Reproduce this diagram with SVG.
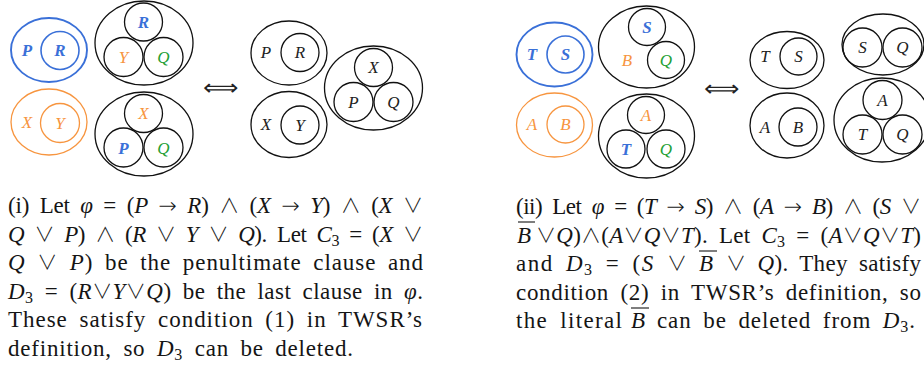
<svg xmlns="http://www.w3.org/2000/svg" width="924" height="369" viewBox="0 0 924 369">
<style>
.bg{fill:#ffffff}
.k{fill:none;stroke:#111;stroke-width:1.3}
.bl{fill:none;stroke:#3a70d8;stroke-width:1.9}
.bli{fill:none;stroke:#3a70d8;stroke-width:1.6}
.or{fill:none;stroke:#f7953f;stroke-width:1.3}
.lab{font-family:"Liberation Serif",serif;font-style:italic;font-size:17px;text-anchor:middle;fill:#222}
.lb{fill:#3a70d8;font-weight:bold}
.lo{fill:#f7953f}
.lg{fill:#24a034}
.t{font-family:"Liberation Serif",serif;font-size:23px;fill:#151515;word-spacing:5px}
.m{font-style:italic}
.s{font-family:"DejaVu Sans ExtraLight","DejaVu Sans",sans-serif;font-weight:200;font-size:22px}
.w{font-family:"Noto Sans CJK JP","DejaVu Sans",sans-serif;font-weight:300;font-size:20px}
.sub{font-size:16px}
.eq{font-family:"DejaVu Sans ExtraLight","DejaVu Sans",sans-serif;font-weight:200;font-size:22px;fill:#222}
.ov{stroke:#151515;stroke-width:1.1}
</style>
<rect class="bg" x="0" y="0" width="924" height="369"/>

<!-- (i) left side -->
<g id="i-blue">
  <ellipse class="bl" cx="49" cy="50" rx="38" ry="32"/>
  <circle class="bli" cx="60" cy="50.5" r="19"/>
  <text class="lab lb" x="27" y="56">P</text>
  <text class="lab lb" x="60" y="56">R</text>
</g>
<g id="i-orange">
  <ellipse class="or" cx="49" cy="122" rx="38" ry="33"/>
  <circle class="or" cx="60" cy="123" r="19.5"/>
  <text class="lab lo" x="27" y="128">X</text>
  <text class="lab lo" x="60" y="129">Y</text>
</g>
<g id="i-top3">
  <ellipse class="k" cx="144" cy="43" rx="49" ry="42"/>
  <circle class="k" cx="143.5" cy="22" r="19"/>
  <circle class="k" cx="123.5" cy="57" r="19.5"/>
  <circle class="k" cx="163.5" cy="57" r="19.5"/>
  <text class="lab lb" x="143.5" y="27.5">R</text>
  <text class="lab lo" x="123.5" y="63">Y</text>
  <text class="lab lg" x="163.5" y="63">Q</text>
</g>
<g id="i-bot3">
  <ellipse class="k" cx="144" cy="134" rx="49" ry="42"/>
  <circle class="k" cx="143.5" cy="113.5" r="19"/>
  <circle class="k" cx="123.5" cy="147.5" r="19.5"/>
  <circle class="k" cx="163.5" cy="147.5" r="19.5"/>
  <text class="lab lo" x="143.5" y="119">X</text>
  <text class="lab lb" x="123.5" y="153.5">P</text>
  <text class="lab lg" x="163.5" y="153.5">Q</text>
</g>

<!-- (i) right side -->
<g id="i-PR">
  <ellipse class="k" cx="289" cy="53" rx="38" ry="32"/>
  <circle class="k" cx="300" cy="52.5" r="19"/>
  <text class="lab" x="266" y="58">P</text>
  <text class="lab" x="300" y="58">R</text>
</g>
<g id="i-XY">
  <ellipse class="k" cx="289" cy="124.5" rx="38" ry="33"/>
  <circle class="k" cx="300" cy="125" r="19"/>
  <text class="lab" x="266" y="130">X</text>
  <text class="lab" x="300" y="130.5">Y</text>
</g>
<g id="i-XPQ">
  <ellipse class="k" cx="373.5" cy="88" rx="49" ry="42"/>
  <circle class="k" cx="373.5" cy="67.5" r="19"/>
  <circle class="k" cx="353.5" cy="102" r="19.5"/>
  <circle class="k" cx="393.5" cy="102" r="19.5"/>
  <text class="lab" x="373.5" y="73">X</text>
  <text class="lab" x="353.5" y="107.5">P</text>
  <text class="lab" x="393.5" y="107.5">Q</text>
</g>

<!-- (ii) left side -->
<g id="ii-blue">
  <ellipse class="bl" cx="554.5" cy="54.5" rx="38" ry="32"/>
  <circle class="bli" cx="565.5" cy="54.5" r="18.5"/>
  <text class="lab lb" x="532" y="60">T</text>
  <text class="lab lb" x="565.5" y="60">S</text>
</g>
<g id="ii-orange">
  <ellipse class="or" cx="554.5" cy="125" rx="38" ry="32"/>
  <circle class="or" cx="565.5" cy="124.5" r="18.5"/>
  <text class="lab lo" x="532" y="130">A</text>
  <text class="lab lo" x="565.5" y="130">B</text>
</g>
<g id="ii-top">
  <ellipse class="k" cx="646.5" cy="47" rx="48" ry="41"/>
  <circle class="k" cx="647" cy="27" r="18.5"/>
  <circle class="k" cx="666" cy="60" r="18.5"/>
  <text class="lab lb" x="647" y="32.5">S</text>
  <text class="lab lo" x="627" y="66">B</text>
  <text class="lab lg" x="666" y="65.5">Q</text>
</g>
<g id="ii-bot3">
  <ellipse class="k" cx="646.5" cy="136" rx="48" ry="42"/>
  <circle class="k" cx="646" cy="115" r="18.5"/>
  <circle class="k" cx="626" cy="149" r="19"/>
  <circle class="k" cx="666" cy="149" r="19"/>
  <text class="lab lo" x="646" y="120.5">A</text>
  <text class="lab lb" x="626" y="154.5">T</text>
  <text class="lab lg" x="666" y="154.5">Q</text>
</g>

<!-- (ii) right side -->
<g id="ii-TS">
  <ellipse class="k" cx="787" cy="60" rx="37" ry="28.5"/>
  <circle class="k" cx="798.5" cy="56.5" r="18.5"/>
  <text class="lab" x="765" y="61.5">T</text>
  <text class="lab" x="798.5" y="62">S</text>
</g>
<g id="ii-SQ">
  <ellipse class="k" cx="883" cy="44.5" rx="41" ry="30.5"/>
  <circle class="k" cx="862.5" cy="47.5" r="19.5"/>
  <circle class="k" cx="902.5" cy="47.5" r="19.5"/>
  <text class="lab" x="862.5" y="53">S</text>
  <text class="lab" x="902.5" y="53">Q</text>
</g>
<g id="ii-AB">
  <ellipse class="k" cx="787" cy="125.5" rx="37" ry="32.5"/>
  <circle class="k" cx="798" cy="127" r="19"/>
  <text class="lab" x="765" y="132.5">A</text>
  <text class="lab" x="798" y="132.5">B</text>
</g>
<g id="ii-ATQ">
  <ellipse class="k" cx="882" cy="120" rx="48" ry="42"/>
  <circle class="k" cx="882.5" cy="100" r="19.5"/>
  <circle class="k" cx="862.5" cy="134.5" r="19.5"/>
  <circle class="k" cx="902.5" cy="134.5" r="19.5"/>
  <text class="lab" x="882.5" y="105.5">A</text>
  <text class="lab" x="862.5" y="140">T</text>
  <text class="lab" x="902.5" y="140">Q</text>
</g>

<g id="connectors">
  <text class="eq" x="203" y="95" textLength="36" lengthAdjust="spacingAndGlyphs">⟺</text>
  <text class="eq" x="703.5" y="96" textLength="36" lengthAdjust="spacingAndGlyphs">⟺</text>
</g>

<!-- caption (i) -->
<g id="caption-i">
  <text class="t" x="8" y="213" textLength="415" lengthAdjust="spacing">(i) Let <tspan class="m">φ</tspan> = (<tspan class="m">P</tspan> <tspan class="s">→</tspan> <tspan class="m">R</tspan>) <tspan class="w">∧</tspan> (<tspan class="m">X</tspan> <tspan class="s">→</tspan> <tspan class="m">Y</tspan>) <tspan class="w">∧</tspan> (<tspan class="m">X</tspan> <tspan class="w">∨</tspan></text>
  <text class="t" x="8" y="241.5" textLength="415" lengthAdjust="spacing"><tspan class="m">Q</tspan> <tspan class="w">∨</tspan> <tspan class="m">P</tspan>) <tspan class="w">∧</tspan> (<tspan class="m">R</tspan> <tspan class="w">∨</tspan> <tspan class="m">Y</tspan> <tspan class="w">∨</tspan> <tspan class="m">Q</tspan>). Let <tspan class="m">C</tspan><tspan class="sub" dy="4">3</tspan><tspan dy="-4"> = (</tspan><tspan class="m">X</tspan> <tspan class="w">∨</tspan></text>
  <text class="t" x="8" y="270" textLength="415" lengthAdjust="spacing"><tspan class="m">Q</tspan> <tspan class="w">∨</tspan> <tspan class="m">P</tspan>) be the penultimate clause and</text>
  <text class="t" x="8" y="298.5" textLength="415" lengthAdjust="spacing"><tspan class="m">D</tspan><tspan class="sub" dy="4">3</tspan><tspan dy="-4"> = (</tspan><tspan class="m">R</tspan><tspan class="w">∨</tspan><tspan class="m">Y</tspan><tspan class="w">∨</tspan><tspan class="m">Q</tspan>) be the last clause in <tspan class="m">φ</tspan>.</text>
  <text class="t" x="8" y="327" textLength="414" lengthAdjust="spacing">These satisfy condition (1) in TWSR’s</text>
  <text class="t" x="8" y="355.5" textLength="345" lengthAdjust="spacing">definition, so <tspan class="m">D</tspan><tspan class="sub" dy="4">3</tspan><tspan dy="-4"> can be deleted.</tspan></text>
</g>

<!-- caption (ii) -->
<g id="caption-ii">
  <text class="t" x="516" y="214" textLength="405" lengthAdjust="spacing">(ii) Let <tspan class="m">φ</tspan> = (<tspan class="m">T</tspan> <tspan class="s">→</tspan> <tspan class="m">S</tspan>) <tspan class="w">∧</tspan> (<tspan class="m">A</tspan> <tspan class="s">→</tspan> <tspan class="m">B</tspan>) <tspan class="w">∧</tspan> (<tspan class="m">S</tspan> <tspan class="w">∨</tspan></text>
  <text class="t m" x="517" y="242.5">B</text>
  <text class="t" x="536" y="242.5" textLength="385" lengthAdjust="spacing"><tspan class="w">∨</tspan><tspan class="m">Q</tspan>)<tspan class="w">∧</tspan>(<tspan class="m">A</tspan><tspan class="w">∨</tspan><tspan class="m">Q</tspan><tspan class="w">∨</tspan><tspan class="m">T</tspan>). Let <tspan class="m">C</tspan><tspan class="sub" dy="4">3</tspan><tspan dy="-4"> = (</tspan><tspan class="m">A</tspan><tspan class="w">∨</tspan><tspan class="m">Q</tspan><tspan class="w">∨</tspan><tspan class="m">T</tspan>)</text>
  <text class="t" x="516" y="271" textLength="171" lengthAdjust="spacing">and <tspan class="m">D</tspan><tspan class="sub" dy="4">3</tspan><tspan dy="-4"> = (</tspan><tspan class="m">S</tspan> <tspan class="w">∨</tspan></text>
  <text class="t m" x="699" y="271">B</text>
  <text class="t" x="726" y="271" textLength="195" lengthAdjust="spacing"><tspan class="w">∨</tspan> <tspan class="m">Q</tspan>). They satisfy</text>
  <text class="t" x="516" y="299.5" textLength="405" lengthAdjust="spacing">condition (2) in TWSR’s definition, so</text>
  <text class="t" x="516" y="328" textLength="106" lengthAdjust="spacing">the literal</text>
  <text class="t m" x="631" y="328">B</text>
  <text class="t" x="657" y="328" textLength="258" lengthAdjust="spacing">can be deleted from <tspan class="m">D</tspan><tspan class="sub" dy="4">3</tspan><tspan dy="-4">.</tspan></text>
  <line class="ov" x1="518" y1="222" x2="535" y2="222"/>
  <line class="ov" x1="699" y1="251" x2="717" y2="251"/>
  <line class="ov" x1="631" y1="308" x2="649" y2="308"/>
</g>
</svg>
